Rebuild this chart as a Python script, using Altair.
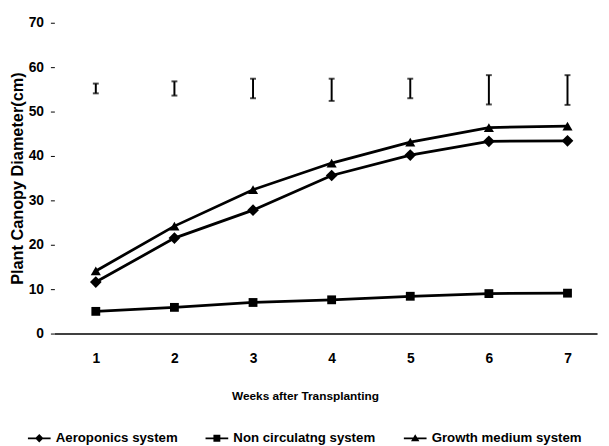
import altair as alt
import pandas as pd

weeks = [1, 2, 3, 4, 5, 6, 7]
series_names = ["Aeroponics system", "Non circulatng system", "Growth medium system"]
aeroponics = [11.6, 21.5, 27.8, 35.6, 40.2, 43.3, 43.4]
non_circulating = [5.0, 5.9, 7.0, 7.6, 8.4, 9.0, 9.1]
growth_medium = [14.1, 24.2, 32.4, 38.4, 43.1, 46.4, 46.7]
err_low = [54.1, 53.6, 53.0, 52.4, 53.0, 51.6, 51.5]
err_high = [56.3, 56.8, 57.4, 57.4, 57.4, 58.2, 58.2]
y_ticks = [0, 10, 20, 30, 40, 50, 60, 70]

rows = []
for name, vals in zip(series_names, [aeroponics, non_circulating, growth_medium]):
    for w, v in zip(weeks, vals):
        rows.append({"week": w, "value": v, "series": name, "legend": name})
df = pd.DataFrame(rows)
err_df = pd.DataFrame({"week": weeks, "lo": err_low, "hi": err_high})

FONT = "Liberation Sans"

x_enc = alt.X("week:Q", scale=alt.Scale(domain=[0.473, 7.376], nice=False, zero=False),
              axis=alt.Axis(values=weeks, format="d", title="Weeks after Transplanting",
                            grid=False, ticks=False, domain=True, domainColor="black",
                            domainWidth=1.6, labelFont=FONT, labelFontSize=14,
                            labelFontWeight="bold", labelColor="black", labelPadding=18,
                            labelFlush=False, titleFont=FONT, titleFontSize=12,
                            titleFontWeight="bold", titleColor="black", titlePadding=26,
                            titleX=254))
y_enc = alt.Y("value:Q", scale=alt.Scale(domain=[0, 70], nice=False),
              axis=alt.Axis(values=y_ticks, title="Plant Canopy Diameter(cm)", grid=False,
                            domain=False, ticks=True, tickSize=4, tickColor="black",
                            tickWidth=1, labelFont=FONT, labelFontSize=14,
                            labelFontWeight="bold", labelColor="black", labelPadding=7,
                            titleFont=FONT, titleFontSize=16.5, titleFontWeight="bold",
                            titleColor="black", titlePadding=3))

base = alt.Chart(df)

lines = base.mark_line(color="black", strokeWidth=2.8).encode(
    x=x_enc, y=y_enc, detail="series:N")

shapes = {"Aeroponics system": ("diamond", 140),
          "Non circulatng system": ("square", 80),
          "Growth medium system": ("triangle-up", 105)}
point_layers = []
for name in series_names:
    shp, sz = shapes[name]
    point_layers.append(
        base.transform_filter(alt.datum.series == name)
        .mark_point(shape=shp, size=sz, filled=True, color="black", opacity=1)
        .encode(x="week:Q", y="value:Q"))

stub = "M-2.3,-0.17H2.3V0.17H-2.3Z"
legend_paths = [
    stub + "M0,-0.85L0.85,0L0,0.85L-0.85,0Z",
    stub + "M-0.7,-0.7H0.7V0.7H-0.7Z",
    stub + "M0,-0.8L0.85,0.6H-0.85Z",
]
legend_layer = base.mark_point(filled=True, opacity=0).encode(
    x="week:Q", y="value:Q",
    shape=alt.Shape("legend:N",
                    scale=alt.Scale(domain=series_names, range=legend_paths),
                    sort=series_names,
                    legend=alt.Legend(title=None, orient="none", direction="horizontal",
                                      legendX=-22, legendY=414, symbolSize=100,
                                      symbolOpacity=1, symbolFillColor="black",
                                      symbolStrokeWidth=0,
                                      labelFont=FONT, labelFontSize=13.4,
                                      labelFontWeight="bold", labelColor="black",
                                      labelOffset=10, columnPadding=28, labelLimit=300)),
    color=alt.value("black"))

err_rules = alt.Chart(err_df).mark_rule(color="black", strokeWidth=2).encode(
    x="week:Q", y="lo:Q", y2="hi:Q")
err_lo = alt.Chart(err_df).mark_tick(color="black", thickness=2, size=6,
                                      orient="horizontal").encode(x="week:Q", y="lo:Q")
err_hi = alt.Chart(err_df).mark_tick(color="black", thickness=2, size=6,
                                      orient="horizontal").encode(x="week:Q", y="hi:Q")

chart = alt.layer(lines, *point_layers, legend_layer, err_rules, err_lo, err_hi).properties(
    width=550, height=315,
    autosize=alt.AutoSizeParams(type="none"),
    padding={"left": 47, "top": 12, "right": 4, "bottom": 111},
    background="white",
).configure_view(stroke=None)

chart.save("out.html", embed_options={"renderer": "svg", "actions": False})
